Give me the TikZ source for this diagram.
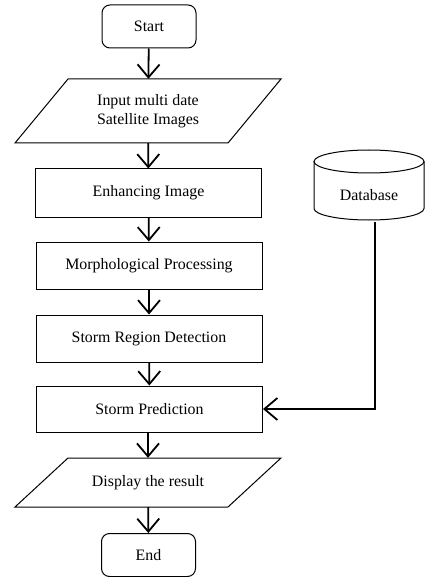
\documentclass[tikz,border=0pt]{standalone}
\usepackage{fontspec}
\setmainfont{Liberation Serif}
\usetikzlibrary{arrows.meta}
\begin{document}
\begin{tikzpicture}[x=1pt,y=1pt,
  font=\fontsize{15.9}{19.5}\selectfont,
  box/.style={draw, line width=1pt, minimum width=226pt, inner sep=0pt, align=center},
  term/.style={draw, line width=1pt, rounded corners=8pt, minimum width=94pt, minimum height=43pt, inner sep=0pt},
  io/.style={minimum width=150pt, inner sep=0pt, align=center},
  arr/.style={line width=1.8pt, -{Straight Barb[length=13pt,width=22pt,line width=1.8pt]}},
  link/.style={line width=1.8pt}]
\useasboundingbox (0,0) rectangle (425,-577);
% terminals
\node[term] (start) at (149,-26.5) {Start};
\node[term] (end) at (148.5,-555) {End};
% input parallelogram
\node[io, minimum height=64pt] (input) at (148,-111) {Input multi date\\Satellite Images};
\draw[line width=1pt] (68,-79) -- (281,-79) -- (228,-143) -- (15,-143) -- cycle;
% process boxes
\node[box, minimum height=48pt] (enh) at (148.5,-193) {Enhancing Image};
\node[box, minimum height=47pt] (morph) at (149,-265.5) {Morphological Processing};
\node[box, minimum height=47pt] (det) at (149,-338.5) {Storm Region Detection};
\node[box, minimum height=46pt] (pred) at (149.5,-409) {Storm Prediction};
% display parallelogram
\node[io, minimum height=49pt] (disp) at (148,-482.5) {Display the result};
\draw[line width=1pt] (68,-458) -- (281,-458) -- (228,-507) -- (15,-507) -- cycle;
% database cylinder
\draw[line width=1pt] (314,-161.5) -- (314,-208.5) arc (180:360:55pt and 11.5pt) -- (424,-161.5);
\draw[line width=1pt] (369,-161.5) ellipse (55pt and 11.5pt);
\node (db) at (369,-195) {Database};
\coordinate (dbout) at (375,-222);
% connectors
\draw[arr] (start) -- (input);
\draw[arr] (input) -- (enh);
\draw[arr] (enh) -- (morph);
\draw[arr] (morph) -- (det);
\draw[arr] (det) -- (pred);
\draw[arr] (pred.south -| disp.north) -- (disp);
\draw[arr] (disp) -- (end);
\draw[arr] (dbout) |- (pred.east);
\end{tikzpicture}
\end{document}
